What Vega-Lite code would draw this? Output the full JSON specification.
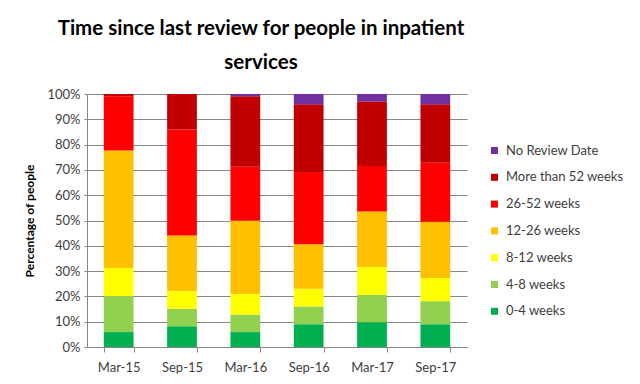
{
  "$schema": "https://vega.github.io/schema/vega-lite/v6.json",
  "width": 380,
  "height": 253,
  "autosize": "none",
  "padding": {"left": 87, "top": 94, "right": 173, "bottom": 37},
  "background": "white",
  "config": {"view": {"stroke": null}, "font": "Lato"},
  "title": {
    "text": ["Time since last review for people in inpatient", "services"],
    "font": "Lato",
    "fontSize": 20.5,
    "fontWeight": "bold",
    "color": "#000000",
    "anchor": "middle",
    "frame": "group",
    "dx": -16,
    "offset": 15,
    "lineHeight": 34
  },
  "data": {
    "values": [
      {"period": "Mar-15", "cat": "0-4 weeks", "rank": 1, "pct": 5.9},
      {"period": "Mar-15", "cat": "4-8 weeks", "rank": 2, "pct": 14.2},
      {"period": "Mar-15", "cat": "8-12 weeks", "rank": 3, "pct": 11.1},
      {"period": "Mar-15", "cat": "12-26 weeks", "rank": 4, "pct": 46.5},
      {"period": "Mar-15", "cat": "26-52 weeks", "rank": 5, "pct": 21.4},
      {"period": "Mar-15", "cat": "More than 52 weeks", "rank": 6, "pct": 0.9},
      {"period": "Mar-15", "cat": "No Review Date", "rank": 7, "pct": 0},
      {"period": "Sep-15", "cat": "0-4 weeks", "rank": 1, "pct": 8.2},
      {"period": "Sep-15", "cat": "4-8 weeks", "rank": 2, "pct": 6.9},
      {"period": "Sep-15", "cat": "8-12 weeks", "rank": 3, "pct": 7.0},
      {"period": "Sep-15", "cat": "12-26 weeks", "rank": 4, "pct": 22.0},
      {"period": "Sep-15", "cat": "26-52 weeks", "rank": 5, "pct": 41.9},
      {"period": "Sep-15", "cat": "More than 52 weeks", "rank": 6, "pct": 14.0},
      {"period": "Sep-15", "cat": "No Review Date", "rank": 7, "pct": 0},
      {"period": "Mar-16", "cat": "0-4 weeks", "rank": 1, "pct": 5.9},
      {"period": "Mar-16", "cat": "4-8 weeks", "rank": 2, "pct": 6.9},
      {"period": "Mar-16", "cat": "8-12 weeks", "rank": 3, "pct": 8.1},
      {"period": "Mar-16", "cat": "12-26 weeks", "rank": 4, "pct": 29.0},
      {"period": "Mar-16", "cat": "26-52 weeks", "rank": 5, "pct": 21.3},
      {"period": "Mar-16", "cat": "More than 52 weeks", "rank": 6, "pct": 27.9},
      {"period": "Mar-16", "cat": "No Review Date", "rank": 7, "pct": 0.9},
      {"period": "Sep-16", "cat": "0-4 weeks", "rank": 1, "pct": 9.0},
      {"period": "Sep-16", "cat": "4-8 weeks", "rank": 2, "pct": 7.0},
      {"period": "Sep-16", "cat": "8-12 weeks", "rank": 3, "pct": 7.0},
      {"period": "Sep-16", "cat": "12-26 weeks", "rank": 4, "pct": 17.6},
      {"period": "Sep-16", "cat": "26-52 weeks", "rank": 5, "pct": 28.6},
      {"period": "Sep-16", "cat": "More than 52 weeks", "rank": 6, "pct": 26.7},
      {"period": "Sep-16", "cat": "No Review Date", "rank": 7, "pct": 4.1},
      {"period": "Mar-17", "cat": "0-4 weeks", "rank": 1, "pct": 9.8},
      {"period": "Mar-17", "cat": "4-8 weeks", "rank": 2, "pct": 10.8},
      {"period": "Mar-17", "cat": "8-12 weeks", "rank": 3, "pct": 11.0},
      {"period": "Mar-17", "cat": "12-26 weeks", "rank": 4, "pct": 22.0},
      {"period": "Mar-17", "cat": "26-52 weeks", "rank": 5, "pct": 17.9},
      {"period": "Mar-17", "cat": "More than 52 weeks", "rank": 6, "pct": 25.5},
      {"period": "Mar-17", "cat": "No Review Date", "rank": 7, "pct": 3.0},
      {"period": "Sep-17", "cat": "0-4 weeks", "rank": 1, "pct": 9.0},
      {"period": "Sep-17", "cat": "4-8 weeks", "rank": 2, "pct": 9.1},
      {"period": "Sep-17", "cat": "8-12 weeks", "rank": 3, "pct": 9.2},
      {"period": "Sep-17", "cat": "12-26 weeks", "rank": 4, "pct": 22.2},
      {"period": "Sep-17", "cat": "26-52 weeks", "rank": 5, "pct": 23.3},
      {"period": "Sep-17", "cat": "More than 52 weeks", "rank": 6, "pct": 23.1},
      {"period": "Sep-17", "cat": "No Review Date", "rank": 7, "pct": 4.1}
    ]
  },
  "mark": {"type": "bar"},
  "encoding": {
    "x": {
      "field": "period",
      "type": "nominal",
      "sort": null,
      "scale": {"paddingInner": 0.53, "paddingOuter": 0.265},
      "axis": {
        "title": null,
        "labelAngle": 0,
        "labelFont": "Lato",
        "labelFontSize": 13,
        "labelColor": "#404040",
        "labelPadding": 9,
        "domainColor": "#868686",
        "tickColor": "#868686",
        "tickBand": "extent",
        "tickSize": 5,
        "grid": false
      }
    },
    "y": {
      "field": "pct",
      "type": "quantitative",
      "stack": "normalize",
      "scale": {"domain": [0, 1]},
      "axis": {
        "title": "Percentage of people",
        "titleFont": "Lato",
        "titleFontSize": 12,
        "titleFontWeight": "bold",
        "titleColor": "#000000",
        "titlePadding": 10,
        "format": "%",
        "values": [0, 0.1, 0.2, 0.3, 0.4, 0.5, 0.6, 0.7, 0.8, 0.9, 1],
        "labelFont": "Lato",
        "labelFontSize": 13,
        "labelColor": "#404040",
        "labelPadding": 4,
        "tickSize": 3,
        "tickColor": "#868686",
        "domainColor": "#868686",
        "gridColor": "#868686",
        "gridWidth": 1
      }
    },
    "color": {
      "field": "cat",
      "type": "nominal",
      "scale": {
        "domain": ["No Review Date", "More than 52 weeks", "26-52 weeks", "12-26 weeks", "8-12 weeks", "4-8 weeks", "0-4 weeks"],
        "range": ["#7030A0", "#C00000", "#FF0000", "#FFC000", "#FFFF00", "#92D050", "#00B050"]
      },
      "legend": {
        "title": null,
        "orient": "none",
        "legendX": 401,
        "legendY": 50,
        "symbolType": "square",
        "symbolSize": 49,
        "symbolStrokeWidth": 0,
        "labelFont": "Lato",
        "labelFontSize": 13,
        "labelColor": "#404040",
        "labelOffset": 5,
        "rowPadding": 12.8
      }
    },
    "order": {"field": "rank", "type": "quantitative"}
  }
}
